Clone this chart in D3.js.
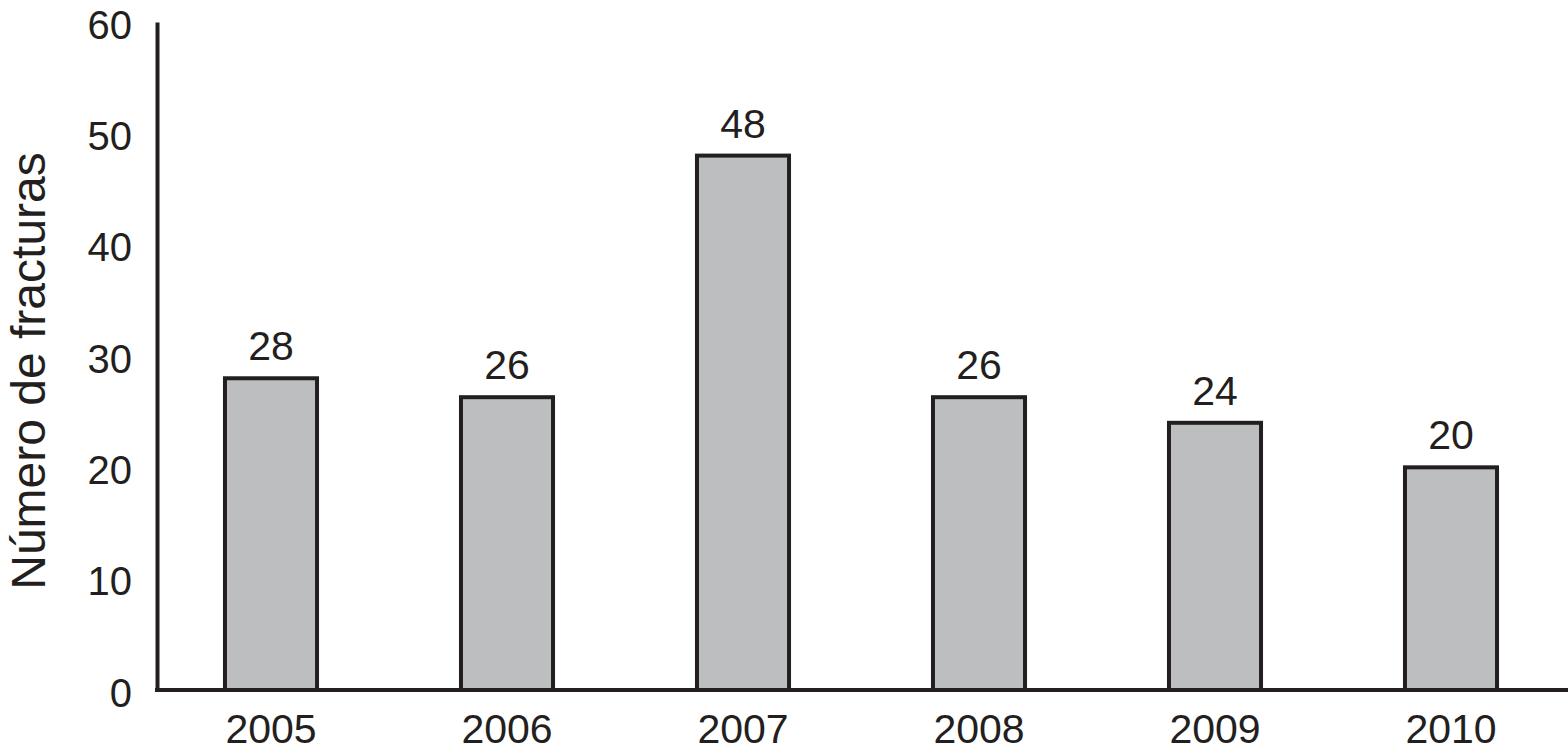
<!DOCTYPE html>
<html lang="es">
<head>
    <meta charset="UTF-8">
    <title>Número de fracturas</title>
    <script src="https://d3js.org/d3.v7.min.js"></script>
    <style>
        body { margin: 0; background: #fff; }
        svg { display: block; }
        text { font-family: "Liberation Sans", Arial, sans-serif; fill: #231f20; }
    </style>
</head>
<body>
    <svg></svg>
    <script>
        const width = 1568;
        const height = 753;

        const years = ["2005", "2006", "2007", "2008", "2009", "2010"];
        const fractures = [28, 26.3, 48, 26.3, 24, 20]; // bar heights as drawn
        const yTicks = [0, 10, 20, 30, 40, 50, 60];

        const ink = "#231f20";

        const svg = d3.select("svg")
            .attr("width", width)
            .attr("height", height);

        const x = d3.scaleBand()
            .domain(years)
            .range([153, 1569])
            .padding(0);

        const y = d3.scaleLinear()
            .domain([0, 60])
            .range([690, 22]);

        const barWidth = x.bandwidth() * 0.39;

        // bars
        svg.append("g")
            .selectAll("rect")
            .data(years)
            .enter().append("rect")
            .attr("x", (d) => x(d) + (x.bandwidth() - barWidth) / 2)
            .attr("y", (d, i) => y(fractures[i]))
            .attr("width", barWidth)
            .attr("height", (d, i) => y(0) - y(fractures[i]))
            .attr("fill", "#bcbec0")
            .attr("stroke", ink)
            .attr("stroke-width", 4);

        // value labels
        svg.append("g")
            .selectAll("text")
            .data(years)
            .enter().append("text")
            .attr("x", (d) => x(d) + x.bandwidth() / 2)
            .attr("y", (d, i) => y(fractures[i]) - 18)
            .attr("text-anchor", "middle")
            .attr("font-size", 41)
            .text((d, i) => Math.round(fractures[i]));

        // y axis
        const yAxis = svg.append("g")
            .attr("transform", "translate(157,0)")
            .call(d3.axisLeft(y).tickValues(yTicks).tickSize(0).tickPadding(25));
        yAxis.select(".domain").attr("stroke", ink).attr("stroke-width", 4);
        yAxis.selectAll("text")
            .attr("font-size", 40)
            .attr("dy", "0.4em")
            .attr("fill", ink);

        // x axis
        const xAxis = svg.append("g")
            .attr("transform", "translate(0,690)")
            .call(d3.axisBottom(x).tickSize(0).tickPadding(24));
        xAxis.select(".domain")
            .attr("d", "M155,0H1568")
            .attr("stroke", ink).attr("stroke-width", 4);
        xAxis.selectAll("text")
            .attr("font-size", 41)
            .attr("fill", ink);

        // axis title
        svg.append("text")
            .attr("transform", "translate(45,371) rotate(-90)")
            .attr("text-anchor", "middle")
            .attr("font-size", 48)
            .text("Número de fracturas");
    </script>
</body>
</html>
